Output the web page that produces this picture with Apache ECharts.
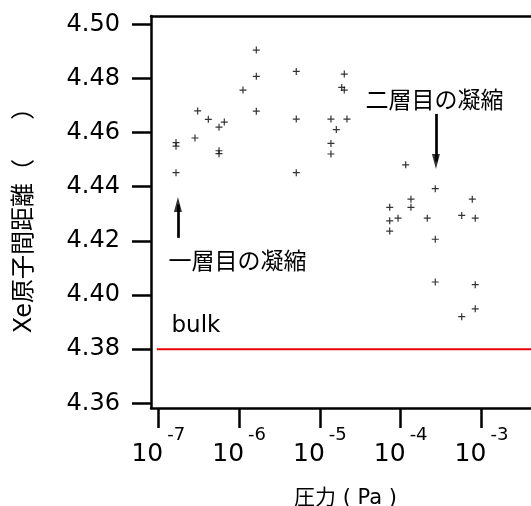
<!DOCTYPE html>
<html><head><meta charset="utf-8">
<script src="https://cdn.jsdelivr.net/npm/echarts@6/dist/echarts.min.js"></script>
<style>html,body{margin:0;padding:0;background:#fff}#c{width:531px;height:506px}</style>
</head><body><div id="c"></div>
<script>
// pressure (Pa) and Xe-Xe spacing
const pressure = [
  1.656e-7, 1.656e-7, 1.656e-7, 2.845e-7, 3.07e-7, 4.16e-7, 5.64e-7, 6.56e-7, 5.64e-7, 5.64e-7,
  1.117e-6, 1.633e-6, 1.633e-6, 1.633e-6, 5.10e-6, 5.10e-6, 5.10e-6,
  1.370e-5, 1.596e-5, 1.370e-5, 1.370e-5, 2.004e-5, 1.862e-5, 2.004e-5, 2.163e-5,
  1.153e-4, 2.68e-4, 1.340e-4, 7.69e-4, 7.31e-5, 1.340e-4, 7.31e-5, 9.27e-5, 2.133e-4, 5.69e-4,
  8.37e-4, 7.31e-5, 2.68e-4, 2.68e-4, 8.37e-4, 8.37e-4, 5.69e-4
];
const spacing = [
  4.4563, 4.4550, 4.4452, 4.4580, 4.4680, 4.4649, 4.4620, 4.4639, 4.4533, 4.4522,
  4.4757, 4.4905, 4.4808, 4.4679, 4.4826, 4.4650, 4.4452,
  4.4650, 4.4611, 4.4560, 4.4521, 4.4816, 4.4767, 4.4757, 4.4650,
  4.4481, 4.4393, 4.4354, 4.4354, 4.4324, 4.4324, 4.4274, 4.4284, 4.4284, 4.4294,
  4.4284, 4.4236, 4.4206, 4.4048, 4.4038, 4.3949, 4.3920
];
const xTicks = [1e-7, 1e-6, 1e-5, 1e-4, 1e-3];
const yTicks = [4.36, 4.38, 4.40, 4.42, 4.44, 4.46, 4.48, 4.50];
const bulkValue = 4.38;
const bulkX = [9.6e-8, 4.1e-3];
// annotations (data coordinates)
const arrowX = [1.75e-7, 2.73e-4];
const arrowFrom = [4.4211, 4.4669];
const arrowTo = [4.4334, 4.4493];
const arrowDir = [0, 180];
const noteText = ['一層目の凝縮', '二層目の凝縮', 'bulk'];
const noteX = [1.32e-7, 3.61e-5, 1.436e-7];
const noteY = [4.4118, 4.4713, 4.3886];

const FF = 'DejaVu Sans, "Noto Sans CJK JP", sans-serif';
const axisLineStyle = {color: '#000', width: 2.5};
const plus = 'path://M2.9,0h1.2v2.9h2.9v1.2h-2.9v2.9h-1.2v-2.9h-2.9v-1.2h2.9z';
const head = 'path://M0,15L4,0L8,15Z';

const pts = pressure.map((p, i) => [p, spacing[i]]);

const chart = echarts.init(document.getElementById('c'), null, {renderer: 'canvas'});
chart.setOption({
  animation: false,
  backgroundColor: '#fff',
  grid: {left: 151, right: 0, top: 16, bottom: 98, containLabel: false, outerBoundsMode: 'none'},
  xAxis: [{
    type: 'log', logBase: 10, min: 8.12e-8, max: 4.1e-3,
    axisLine: {show: true, onZero: false, lineStyle: axisLineStyle},
    axisTick: {show: true, inside: false, length: 20, customValues: xTicks, lineStyle: axisLineStyle},
    minorTick: {show: false},
    splitLine: {show: false},
    axisLabel: {
      customValues: xTicks, margin: 18,
      formatter: v => '{b|10}{s|' + Math.round(Math.log10(v)) + '}',
      rich: {
        b: {fontSize: 25, lineHeight: 25, verticalAlign: 'top', padding: [16, 0, 0, 0], color: '#000', fontFamily: FF},
        s: {fontSize: 18, lineHeight: 18, verticalAlign: 'top', padding: [0, 0, 0, 4], color: '#000', fontFamily: FF}
      }
    },
    name: '圧力 ( Pa )', nameLocation: 'middle', nameGap: 80,
    nameTextStyle: {fontSize: 21, color: '#000', fontFamily: FF, padding: [0, 0, 0, 9]}
  }, {
    type: 'value', position: 'top', min: 0, max: 1,
    axisLine: {show: true, onZero: false, lineStyle: axisLineStyle},
    axisTick: {show: false}, axisLabel: {show: false}, splitLine: {show: false}
  }],
  yAxis: {
    type: 'value', min: 4.35826, max: 4.50307,
    axisLine: {show: true, onZero: false, lineStyle: axisLineStyle},
    axisTick: {show: true, inside: false, length: 19, customValues: yTicks, lineStyle: axisLineStyle},
    splitLine: {show: false},
    axisLabel: {customValues: yTicks, margin: 31, fontSize: 24, color: '#000', fontFamily: FF,
      formatter: v => Number(v).toFixed(2)},
    name: 'Xe原子間距離（\u3000  ）', nameLocation: 'middle', nameGap: 114,
    nameTextStyle: {fontSize: 24, color: '#000', fontFamily: FF, padding: [0, 5, 0, 0]}
  },
  series: [{
    type: 'line',
    data: bulkX.map(x => [x, bulkValue]),
    symbol: 'none', silent: true,
    lineStyle: {color: '#e60000', width: 2},
    z: 1
  }, {
    type: 'scatter',
    data: pts,
    symbol: plus, symbolSize: 7,
    itemStyle: {color: '#000'},
    silent: true, z: 3,
    markLine: {
      silent: true, animation: false,
      symbol: ['none', 'none'],
      label: {show: false},
      lineStyle: {color: '#000', width: 2.7, type: 'solid'},
      data: arrowX.map((x, i) => [{coord: [x, arrowFrom[i]]}, {coord: [x, arrowTo[i]]}])
    },
    markPoint: {
      silent: true, animation: false,
      symbol: 'circle', symbolSize: 1,
      itemStyle: {color: 'rgba(0,0,0,0)'},
      label: {show: true, position: 'right', distance: 0, color: '#000', fontSize: 23, fontFamily: FF},
      data: noteText.map((t, i) => ({coord: [noteX[i], noteY[i]], label: {formatter: t}}))
    }
  }, {
    type: 'scatter',
    silent: true, z: 4,
    symbol: head, symbolSize: [8, 15],
    itemStyle: {color: '#000'},
    data: arrowX.map((x, i) => ({value: [x, arrowTo[i]], symbolRotate: arrowDir[i]}))
  }]
});
</script></body></html>
